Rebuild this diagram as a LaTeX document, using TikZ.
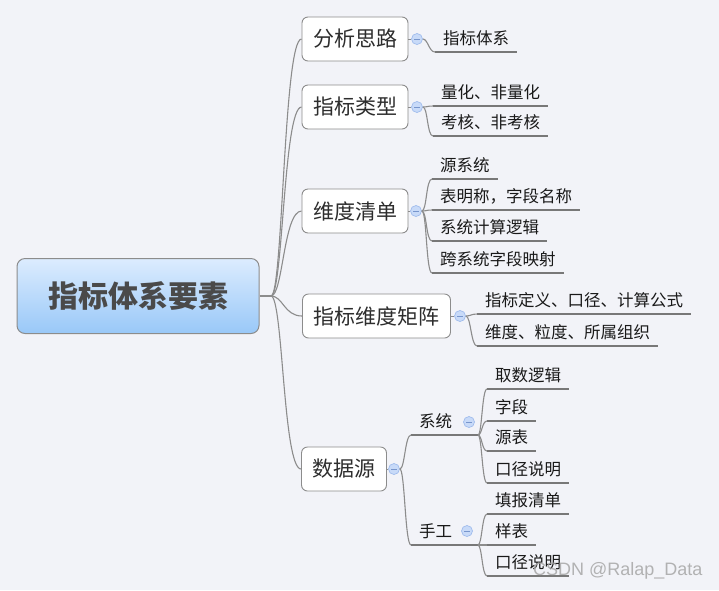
\documentclass[tikz,border=0pt]{standalone}
\usepackage{fontspec}
\newfontfamily\cjk{Noto Sans CJK SC}
\newfontfamily\wmfont{Liberation Sans}
\definecolor{bg}{RGB}{242,243,248}
\definecolor{rtop}{RGB}{220,236,254}
\definecolor{rbot}{RGB}{153,200,248}
\definecolor{bord}{RGB}{140,140,140}
\definecolor{linec}{RGB}{140,140,140}
\definecolor{ulc}{RGB}{120,120,120}
\definecolor{togfill}{RGB}{200,218,248}
\definecolor{togdraw}{RGB}{160,188,236}
\definecolor{togminus}{RGB}{120,150,205}
\definecolor{roottext}{RGB}{74,74,74}
\definecolor{l1text}{RGB}{45,45,45}
\definecolor{leaftext}{RGB}{25,25,25}
\tikzset{
  rootbox/.style={draw=bord, line width=1pt, rounded corners=8pt, top color=rtop, bottom color=rbot,
    minimum width=242pt, minimum height=75pt, text=roottext,
    font=\cjk\bfseries\fontsize{30}{34}\selectfont},
  topicbox/.style={draw=bord, line width=0.9pt, rounded corners=6pt, fill=white,
    minimum height=44pt, inner xsep=11pt, text=l1text,
    font=\cjk\fontsize{21}{25}\selectfont},
  leaf/.style={anchor=south west, inner xsep=8pt, inner ysep=0pt, text depth=7pt,
    text=leaftext, font=\cjk\fontsize{16.5}{19}\selectfont},
  tog/.style={circle, minimum size=11pt, inner sep=0pt, fill=togfill, draw=togdraw, line width=0.7pt,
    path picture={\draw[togminus, line width=0.7pt]
      ([xshift=-2.8pt]path picture bounding box.center) -- ([xshift=2.8pt]path picture bounding box.center);}},
  conn/.style={draw=linec, line width=1.1pt},
  uline/.style={draw=ulc, line width=1.1pt},
}
\newcommand{\ul}[1]{\draw[uline] (#1.south west) -- (#1.south east);}
\begin{document}
\begin{tikzpicture}[x=1pt,y=-1pt]
\useasboundingbox (0,0) rectangle (719,590);
\fill[bg] (0,0) rectangle (719,590);

% root and level-1 topics
\node[rootbox] (root) at (138,296) {指标体系要素};
\node[topicbox] (n1) at (355,39) {分析思路};
\node[topicbox] (n2) at (355,107) {指标类型};
\node[topicbox] (n3) at (355,211) {维度清单};
\node[topicbox] (n4) at (376.5,316) {指标维度矩阵};
\node[topicbox] (n5) at (344,469) {数据源};

\coordinate (rs) at (271,296);
\draw[conn] (root.east) -- (rs);
\foreach \n in {n1,n2,n3,n4,n5}
  \draw[conn] (rs) .. controls +(12,0) and +(-18,0) .. (\n.west);

% toggles
\node[tog] (c1) at (417,39) {};
\node[tog] (c2) at (417,107) {};
\node[tog] (c3) at (416,211) {};
\node[tog] (c4) at (460,316) {};
\node[tog] (c5) at (394,469) {};
\foreach \a/\b in {n1/c1,n2/c2,n3/c3,n4/c4,n5/c5}
  \draw[conn, line width=0.7pt] (\a.east) -- (\b.west);

% leaves of 分析思路
\node[leaf] (a1) at (435,52) {指标体系};
% leaves of 指标类型
\node[leaf] (b1) at (433,106) {量化、非量化};
\node[leaf] (b2) at (433,136) {考核、非考核};
% leaves of 维度清单
\node[leaf] (d1) at (432,179) {源系统};
\node[leaf] (d2) at (432,210) {表明称，字段名称};
\node[leaf] (d3) at (432,241) {系统计算逻辑};
\node[leaf] (d4) at (432,273) {跨系统字段映射};
% leaves of 指标维度矩阵
\node[leaf] (m1) at (477,314) {指标定义、口径、计算公式};
\node[leaf] (m2) at (477,346) {维度、粒度、所属组织};
% 数据源 children
\node[leaf] (s) at (411,435) {系统};
\node[leaf] (h) at (411,545) {手工};
\coordinate (send) at (478,435);
\coordinate (hend) at (478,545);
\node[tog] (cs) at (469,422) {};
\node[tog] (ch) at (467,531) {};
\node[leaf] (s1) at (487,389) {取数逻辑};
\node[leaf] (s2) at (487,421) {字段};
\node[leaf] (s3) at (487,451) {源表};
\node[leaf] (s4) at (487,483) {口径说明};
\node[leaf] (h1) at (487,514) {填报清单};
\node[leaf] (h2) at (487,545) {样表};
\node[leaf] (h3) at (487,576) {口径说明};

% underlines
\foreach \l in {a1,b1,b2,d1,d2,d3,d4,m1,m2,s1,s2,s3,s4,h1,h2,h3} { \ul{\l} }
\draw[uline] (s.south west) -- (send);
\draw[uline] (h.south west) -- (hend);

% connectors to leaves
\foreach \c/\l in {c1/a1,c2/b1,c2/b2,c3/d1,c3/d2,c3/d3,c3/d4,c4/m1,c4/m2,c5/s,c5/h}
  \draw[conn] (\c.east) .. controls +(5,0) and +(-6,0) .. (\l.south west);
\foreach \l in {s1,s2,s3,s4}
  \draw[conn] (send) .. controls +(4,0) and +(-5,0) .. (\l.south west);
\foreach \l in {h1,h2,h3}
  \draw[conn] (hend) .. controls +(4,0) and +(-5,0) .. (\l.south west);

% watermark
\node[anchor=west, inner sep=0pt, text=gray!70, opacity=0.85, font=\wmfont\fontsize{18}{20}\selectfont] (wm) at (533,571) {CSDN @Ralap\_Data};
\end{tikzpicture}
\end{document}
